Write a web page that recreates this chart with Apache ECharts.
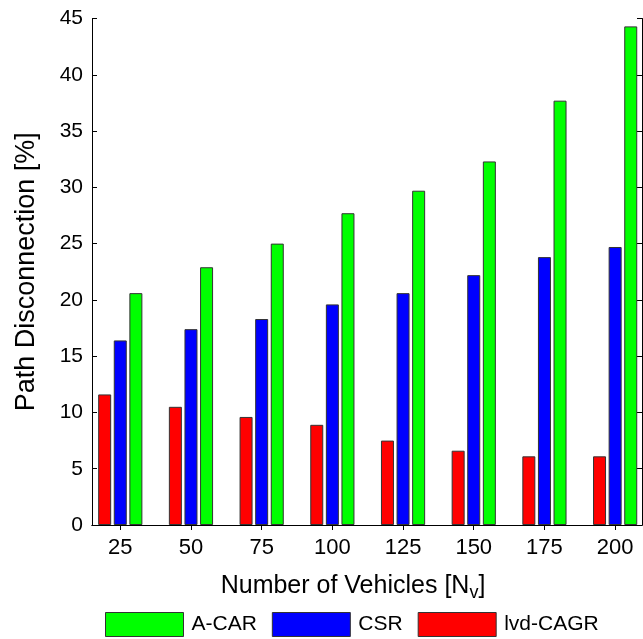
<!DOCTYPE html>
<html>
<head>
<meta charset="utf-8">
<script src="https://cdn.jsdelivr.net/npm/echarts@6/dist/echarts.min.js"></script>
<style>
html,body{margin:0;padding:0;background:#fff;}
#chart{width:643px;height:639px;}
</style>
</head>
<body>
<div id="chart"></div>
<script>
const categories = ['25', '50', '75', '100', '125', '150', '175', '200'];
const lvdCagr = [11.6, 10.5, 9.6, 8.9, 7.5, 6.6, 6.1, 6.1];
const csr = [16.4, 17.4, 18.3, 19.6, 20.6, 22.2, 23.8, 24.7];
const aCar = [20.6, 22.9, 25.0, 27.7, 29.7, 32.3, 37.7, 44.3];
const yTicks = [0, 5, 10, 15, 20, 25, 30, 35, 40, 45];

const positions = categories.map((c, i) => i + 1);
const toData = arr => arr.map((v, i) => [positions[i], v]);

const FONT = 'Liberation Sans, Arial, Helvetica, sans-serif';
const chart = echarts.init(document.getElementById('chart'), null, {renderer: 'canvas'});

const barStyle = color => ({color: color, borderColor: '#333', borderWidth: 1});

chart.setOption({
  animation: false,
  backgroundColor: '#fff',
  textStyle: {fontFamily: FONT, color: '#000'},
  grid: {left: 92, right: 1, top: 18.5, bottom: 114, containLabel: false},
  legend: {
    data: ['A-CAR', 'CSR', 'lvd-CAGR'],
    left: 100, top: 607,
    itemWidth: 78, itemHeight: 24, itemGap: 15,
    icon: 'rect',
    itemStyle: {borderColor: '#333', borderWidth: 1},
    textStyle: {fontFamily: FONT, fontSize: 21, color: '#000', padding: [0, 0, 0, 3]}
  },
  xAxis: [{
    type: 'value', min: 0.6, max: 8.38, position: 'bottom',
    axisLine: {show: true, lineStyle: {color: '#000', width: 1}},
    axisTick: {show: true, inside: true, length: 5, customValues: positions, lineStyle: {color: '#000'}},
    axisLabel: {
      show: true, customValues: positions, margin: 12,
      fontFamily: FONT, fontSize: 22, color: '#000',
      formatter: v => categories[Math.round(v) - 1]
    },
    splitLine: {show: false},
    name: '{a|Number of Vehicles [N}{s|v}{a|]}',
    nameLocation: 'middle', nameGap: 45,
    nameTextStyle: {
      padding: [0, 28, 0, 0],
      rich: {
        a: {fontFamily: FONT, fontSize: 25, color: '#000'},
        s: {fontFamily: FONT, fontSize: 18, color: '#000', padding: [14, 0, 0, 0]}
      }
    }
  }, {
    type: 'value', min: 0.6, max: 8.38, position: 'top',
    axisLine: {show: true, lineStyle: {color: '#000', width: 1}},
    axisTick: {show: true, inside: true, length: 5, customValues: positions, lineStyle: {color: '#000'}},
    axisLabel: {show: false},
    splitLine: {show: false}
  }],
  yAxis: [{
    type: 'value', min: 0, max: 45, interval: 5, position: 'left',
    axisLine: {show: true, lineStyle: {color: '#000', width: 1}},
    axisTick: {show: true, inside: true, length: 5, lineStyle: {color: '#000'}},
    axisLabel: {fontFamily: FONT, fontSize: 21, color: '#000', margin: 9},
    splitLine: {show: false},
    name: 'Path Disconnection [%]',
    nameLocation: 'middle', nameGap: 52,
    nameTextStyle: {fontFamily: FONT, fontSize: 27, color: '#000'}
  }, {
    type: 'value', min: 0, max: 45, interval: 5, position: 'right',
    axisLine: {show: true, lineStyle: {color: '#000', width: 1}},
    axisTick: {show: true, inside: true, length: 5, lineStyle: {color: '#000'}},
    axisLabel: {show: false},
    splitLine: {show: false}
  }],
  series: [
    {name: 'lvd-CAGR', type: 'bar', xAxisIndex: 0, yAxisIndex: 0, barWidth: 13, barGap: '20%',
     itemStyle: barStyle('#ff0000'), data: toData(lvdCagr)},
    {name: 'CSR', type: 'bar', xAxisIndex: 0, yAxisIndex: 0, barWidth: 13, barGap: '20%',
     itemStyle: barStyle('#0000ff'), data: toData(csr)},
    {name: 'A-CAR', type: 'bar', xAxisIndex: 0, yAxisIndex: 0, barWidth: 13, barGap: '20%',
     itemStyle: barStyle('#00ff00'), data: toData(aCar)}
  ]
});
</script>
</body>
</html>
